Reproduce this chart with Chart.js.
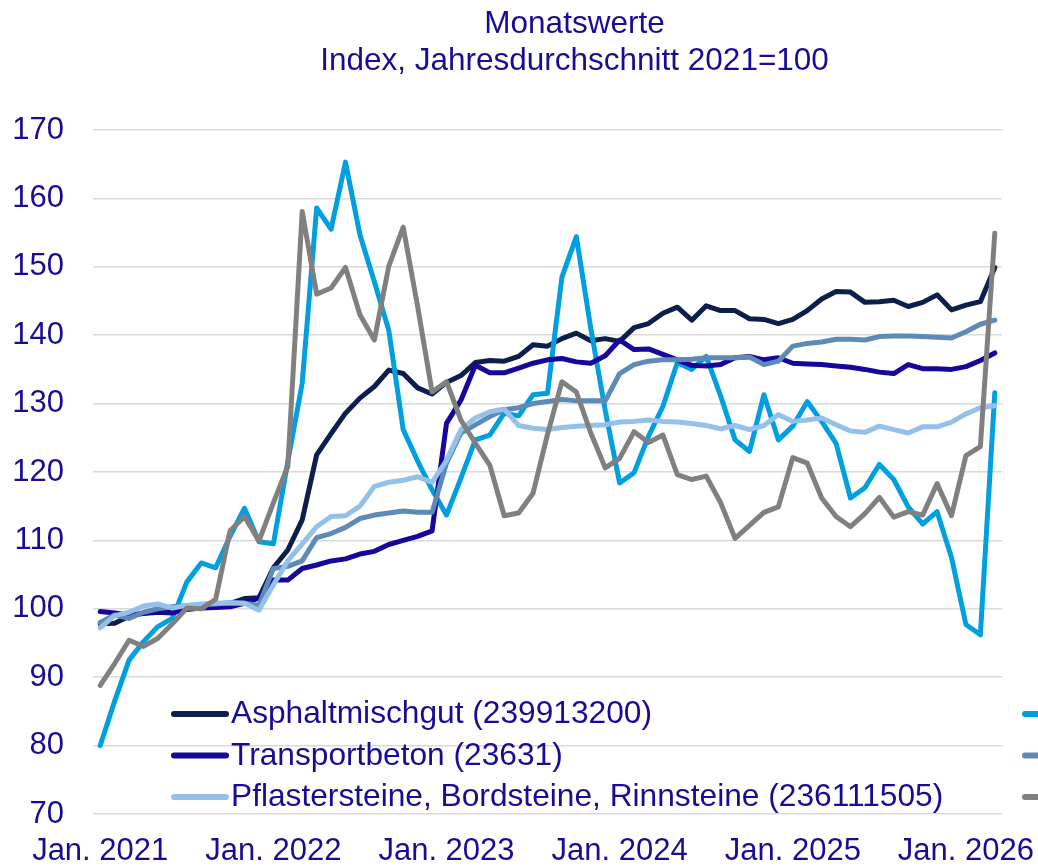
<!DOCTYPE html>
<html>
<head>
<meta charset="utf-8">
<script src="https://cdn.jsdelivr.net/npm/chart.js@4.4.1/dist/chart.umd.min.js"></script>
<style>
html,body{margin:0;padding:0;background:#ffffff;overflow:hidden;}
canvas{display:block;}
</style>
</head>
<body>
<canvas id="c" width="1038" height="868"></canvas>
<script>
// ---------- data ----------
const monthNames = ['Jan.','Feb.','März','Apr.','Mai','Juni','Juli','Aug.','Sep.','Okt.','Nov.','Dez.'];
const years = [2021, 2022, 2023, 2024, 2025, 2026];
const monthCount = 63; // Jan. 2021 – März 2026

const titleLines = ['Monatswerte', 'Index, Jahresdurchschnitt 2021=100'];
const yTicks = [70, 80, 90, 100, 110, 120, 130, 140, 150, 160, 170];

const seriesNames = [
  'Asphaltmischgut (239913200)',
  'Transportbeton (23631)',
  'Pflastersteine, Bordsteine, Rinnsteine (236111505)',
  'Bitumen',
  'Zement',
  'Dieselkraftstoff'
];

const asphalt = [97.8, 97.9, 98.9, 99.4, 99.7, 100.0, 100.2, 100.3, 100.4, 100.8, 101.5, 101.6,
  106.0, 108.6, 113.0, 122.5, 125.6, 128.6, 130.8, 132.5, 134.9, 134.4, 132.3, 131.4,
  133.1, 134.1, 136.0, 136.3, 136.2, 136.9, 138.6, 138.4, 139.5, 140.3, 139.2, 139.5,
  139.1, 141.1, 141.7, 143.2, 144.1, 142.2, 144.3, 143.6, 143.6, 142.4, 142.3, 141.7,
  142.3, 143.6, 145.3, 146.4, 146.3, 144.8, 144.9, 145.1, 144.2, 144.8, 145.9, 143.7,
  144.4, 144.9, 149.9];

const transportbeton = [99.6, 99.4, 99.1, 99.3, 99.5, 99.4, 99.9, 100.1, 100.2, 100.3, 100.8, 101.6,
  104.2, 104.2, 105.9, 106.4, 107.0, 107.3, 108.0, 108.4, 109.4, 110.0, 110.6, 111.4,
  127.1, 130.5, 135.6, 134.5, 134.5, 135.2, 135.9, 136.4, 136.6, 136.1, 135.9, 137.0,
  139.3, 137.9, 138.0, 137.2, 136.4, 135.6, 135.5, 135.7, 136.7, 136.9, 136.4, 136.7,
  135.9, 135.8, 135.7, 135.5, 135.3, 135.0, 134.6, 134.4, 135.7, 135.1, 135.1, 135.0,
  135.4, 136.3, 137.4];

const pflaster = [97.2, 99.0, 99.5, 100.4, 100.7, 100.1, 100.5, 100.7, 100.8, 100.9, 100.8, 99.8,
  103.5, 107.0, 109.5, 112.0, 113.5, 113.6, 115.0, 117.9, 118.5, 118.8, 119.3, 118.5,
  121.7, 126.2, 127.9, 128.8, 129.2, 126.8, 126.4, 126.2, 126.5, 126.7, 126.8, 126.9,
  127.3, 127.4, 127.6, 127.4, 127.3, 127.1, 126.8, 126.3, 126.8, 126.2, 126.8, 128.4,
  127.4, 127.6, 127.9, 126.9, 126.0, 125.8, 126.7, 126.2, 125.7, 126.6, 126.6, 127.3,
  128.5, 129.4, 129.7];

const cyanSeries = [80.0, 86.5, 92.5, 95.2, 97.4, 98.6, 103.9, 106.7, 106.0, 110.6, 114.7, 109.8,
  109.5, 121.5, 133.0, 158.6, 155.5, 165.3, 154.7, 147.8, 140.7, 126.2, 121.6, 117.4,
  113.7, 119.1, 124.7, 125.4, 128.6, 128.2, 131.3, 131.5, 148.5, 154.4, 141.0, 129.0,
  118.4, 119.9, 125.2, 129.6, 136.0, 135.0, 136.9, 131.1, 124.7, 123.0, 131.3, 124.7,
  126.7, 130.3, 127.4, 124.2, 116.2, 117.7, 121.1, 118.9, 114.9, 112.4, 114.2, 107.5,
  97.7, 96.2, 131.6];

const steelSeries = [98.0, 99.1, 98.6, 99.5, 100.0, 100.3, 100.5, 100.6, 100.7, 100.9, 100.8, 100.5,
  105.9, 106.2, 107.0, 110.4, 111.0, 111.9, 113.2, 113.7, 114.0, 114.3, 114.1, 114.1,
  121.3, 125.7, 126.9, 128.1, 129.1, 129.4, 130.0, 130.3, 130.6, 130.4, 130.4, 130.4,
  134.4, 135.7, 136.2, 136.4, 136.4, 136.5, 136.7, 136.7, 136.7, 136.8, 135.7, 136.2,
  138.4, 138.8, 139.0, 139.4, 139.4, 139.3, 139.8, 139.9, 139.9, 139.8, 139.7, 139.6,
  140.5, 141.6, 142.2];

const greySeries = [88.8, 92.0, 95.4, 94.5, 95.7, 97.8, 100.1, 100.0, 101.4, 111.4, 113.5, 109.9,
  115.5, 120.8, 158.1, 146.0, 146.9, 149.9, 143.0, 139.3, 150.1, 155.8, 144.2, 131.7,
  133.2, 127.6, 124.2, 121.0, 113.6, 114.0, 116.9, 125.5, 133.2, 131.7, 125.7, 120.6,
  122.0, 125.9, 124.3, 125.4, 119.6, 118.9, 119.4, 115.5, 110.3, 112.2, 114.1, 114.9,
  122.1, 121.3, 116.2, 113.5, 112.0, 113.9, 116.3, 113.4, 114.2, 113.7, 118.3, 113.6,
  122.4, 123.7, 154.9];

// ---------- styles ----------
const TEXT = '#170c96';
const FONT_FAMILY = '"Liberation Sans", Arial, Helvetica, sans-serif';
const colors = ['#0b1e4c', '#16069c', '#93c1e9', '#009fdf', '#5e8bb6', '#808080'];
const drawOrder = [6, 4, 2, 5, 3, 1]; // lower = drawn on top
const seriesValues = [asphalt, transportbeton, pflaster, cyanSeries, steelSeries, greySeries];

// categories built from month names and years
const categories = [];
for (let k = 0; k < monthCount; k++) {
  categories.push(monthNames[k % 12] + ' ' + years[Math.floor(k / 12)]);
}

const datasets = seriesValues.map((vals, i) => ({
  label: seriesNames[i],
  data: vals,
  borderColor: colors[i],
  backgroundColor: colors[i],
  borderWidth: 5,
  pointRadius: 0,
  tension: 0,
  fill: false,
  order: drawOrder[i],
  borderJoinStyle: 'round',
  borderCapStyle: 'round'
}));

// ---------- plugins ----------
const titlePlugin = {
  id: 'customTitle',
  afterDraw(chart) {
    const ctx = chart.ctx;
    ctx.save();
    ctx.fillStyle = TEXT;
    ctx.font = '31.5px ' + FONT_FAMILY;
    ctx.textAlign = 'center';
    ctx.textBaseline = 'alphabetic';
    ctx.fillText(titleLines[0], 574.5, 32.5);
    ctx.fillText(titleLines[1], 574.5, 69.5);
    ctx.restore();
  }
};

const legendPlugin = {
  id: 'customLegend',
  afterDraw(chart) {
    const ctx = chart.ctx;
    const rowsY = [714, 755.5, 797];
    const colX = [172, 1023];
    ctx.save();
    ctx.font = '31.7px ' + FONT_FAMILY;
    ctx.textAlign = 'left';
    ctx.textBaseline = 'middle';
    chart.data.datasets.forEach((ds, i) => {
      const col = i < 3 ? 0 : 1;
      const row = i % 3;
      const x0 = colX[col];
      const y = rowsY[row];
      ctx.strokeStyle = ds.borderColor;
      ctx.lineWidth = 6;
      ctx.lineCap = 'round';
      ctx.beginPath();
      ctx.moveTo(x0 + 2, y);
      ctx.lineTo(x0 + 54, y);
      ctx.stroke();
      ctx.fillStyle = TEXT;
      ctx.fillText(ds.label, x0 + 59, y + 0.5);
    });
    ctx.restore();
  }
};

// ---------- chart ----------
new Chart(document.getElementById('c').getContext('2d'), {
  type: 'line',
  data: { labels: categories, datasets: datasets },
  options: {
    responsive: false,
    animation: false,
    devicePixelRatio: 1,
    layout: { padding: { top: 130, right: 36, bottom: 0, left: 0 } },
    plugins: {
      legend: { display: false },
      title: { display: false },
      tooltip: { enabled: false }
    },
    scales: {
      x: {
        type: 'category',
        offset: true,
        grid: { display: false, drawTicks: false },
        border: { display: false },
        ticks: {
          autoSkip: false,
          maxRotation: 0,
          minRotation: 0,
          padding: 19,
          color: TEXT,
          font: { family: FONT_FAMILY, size: 31 },
          callback: function (value, index) {
            const lab = categories[index];
            return lab.startsWith('Jan.') ? lab : '';
          }
        },
        afterFit: function (scale) { scale.height = 54; }
      },
      y: {
        min: yTicks[0],
        max: yTicks[yTicks.length - 1],
        grid: { color: '#d9d9d9', lineWidth: 1.5, drawTicks: false },
        border: { display: false },
        ticks: {
          stepSize: 10,
          padding: 29,
          color: TEXT,
          font: { family: FONT_FAMILY, size: 31 }
        },
        afterFit: function (scale) { scale.width = 93; }
      }
    }
  },
  plugins: [titlePlugin, legendPlugin]
});
</script>
</body>
</html>
